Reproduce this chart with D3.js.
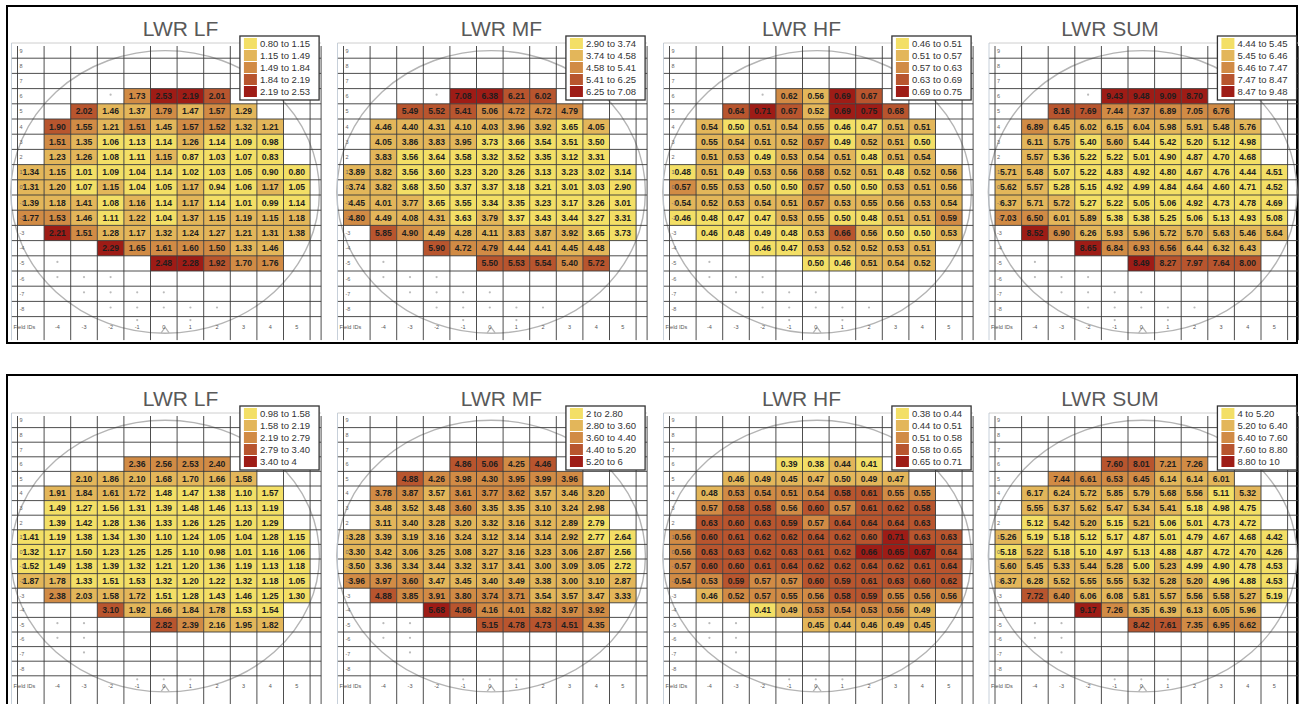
<!DOCTYPE html>
<html><head><meta charset="utf-8">
<script src="https://cdn.jsdelivr.net/npm/d3@7"></script>
<style>
body{margin:0;background:#fff;}
svg{display:block;font-family:"Liberation Sans",Arial,sans-serif;}
</style>
</head><body>
<svg id="chart" width="1299" height="704"></svg>
<script>
// ---------------- data ----------------
const columns = [-5,-4,-3,-2,-1,0,1,2,3,4,5];
const gridRows = [9,8,7,6,5,4,3,2,1,0,-1,-2,-3,-4,-5,-6,-7,-8];
const dataRows = [6,5,4,3,2,1,0,-1,-2,-3,-4,-5];
const columnLabels = ["Field IDs","-4","-3","-2","-1","0","1","2","3","4","5"];
const titles = ["LWR LF","LWR MF","LWR HF","LWR SUM"];
const _ = null;

const topLF = [
 [_,_,_,_,1.73,2.53,2.19,2.01,_,_,_],
 [_,_,2.02,1.46,1.37,1.79,1.47,1.57,1.29,_,_],
 [_,1.90,1.55,1.21,1.51,1.45,1.57,1.52,1.32,1.21,_],
 [_,1.51,1.35,1.06,1.13,1.14,1.26,1.14,1.09,0.98,_],
 [_,1.23,1.26,1.08,1.11,1.15,0.87,1.03,1.07,0.83,_],
 [1.34,1.15,1.01,1.09,1.04,1.14,1.02,1.03,1.05,0.90,0.80],
 [1.31,1.20,1.07,1.15,1.04,1.05,1.17,0.94,1.06,1.17,1.05],
 [1.39,1.18,1.41,1.08,1.16,1.14,1.17,1.14,1.01,0.99,1.14],
 [1.77,1.53,1.46,1.11,1.22,1.04,1.37,1.15,1.19,1.15,1.18],
 [_,2.21,1.51,1.28,1.17,1.32,1.24,1.27,1.21,1.31,1.38],
 [_,_,_,2.29,1.65,1.61,1.60,1.50,1.33,1.46,_],
 [_,_,_,_,_,2.48,2.28,1.92,1.70,1.76,_]
];
const topMF = [
 [_,_,_,_,7.08,6.38,6.21,6.02,_,_,_],
 [_,_,5.49,5.52,5.41,5.06,4.72,4.72,4.79,_,_],
 [_,4.46,4.40,4.31,4.10,4.03,3.96,3.92,3.65,4.05,_],
 [_,4.05,3.86,3.83,3.95,3.73,3.66,3.54,3.51,3.50,_],
 [_,3.83,3.56,3.64,3.58,3.32,3.52,3.35,3.12,3.31,_],
 [3.89,3.82,3.56,3.60,3.23,3.20,3.26,3.13,3.23,3.02,3.14],
 [3.74,3.82,3.68,3.50,3.37,3.37,3.18,3.21,3.01,3.03,2.90],
 [4.45,4.01,3.77,3.65,3.55,3.34,3.35,3.23,3.17,3.26,3.01],
 [4.80,4.49,4.08,4.31,3.63,3.79,3.37,3.43,3.44,3.27,3.31],
 [_,5.85,4.90,4.49,4.28,4.11,3.83,3.87,3.92,3.65,3.73],
 [_,_,_,5.90,4.72,4.79,4.44,4.41,4.45,4.48,_],
 [_,_,_,_,_,5.50,5.53,5.54,5.40,5.72,_]
];
const topHF = [
 [_,_,_,_,0.62,0.56,0.69,0.67,_,_,_],
 [_,_,0.64,0.71,0.67,0.52,0.69,0.75,0.68,_,_],
 [_,0.54,0.50,0.51,0.54,0.55,0.46,0.47,0.51,0.51,_],
 [_,0.55,0.54,0.51,0.52,0.57,0.49,0.52,0.51,0.50,_],
 [_,0.51,0.53,0.49,0.53,0.54,0.51,0.48,0.51,0.54,_],
 [0.48,0.51,0.49,0.53,0.56,0.58,0.52,0.51,0.48,0.52,0.56],
 [0.57,0.55,0.53,0.50,0.50,0.57,0.50,0.50,0.53,0.51,0.56],
 [0.54,0.52,0.53,0.54,0.51,0.57,0.53,0.55,0.56,0.53,0.54],
 [0.46,0.48,0.47,0.47,0.53,0.55,0.50,0.48,0.51,0.51,0.59],
 [_,0.46,0.48,0.49,0.48,0.53,0.66,0.56,0.50,0.50,0.53],
 [_,_,_,0.46,0.47,0.53,0.52,0.52,0.53,0.51,_],
 [_,_,_,_,_,0.50,0.46,0.51,0.54,0.52,_]
];
const topSUM = [
 [_,_,_,_,9.43,9.48,9.09,8.70,_,_,_],
 [_,_,8.16,7.69,7.44,7.37,6.89,7.05,6.76,_,_],
 [_,6.89,6.45,6.02,6.15,6.04,5.98,5.91,5.48,5.76,_],
 [_,6.11,5.75,5.40,5.60,5.44,5.42,5.20,5.12,4.98,_],
 [_,5.57,5.36,5.22,5.22,5.01,4.90,4.87,4.70,4.68,_],
 [5.71,5.48,5.07,5.22,4.83,4.92,4.80,4.67,4.76,4.44,4.51],
 [5.62,5.57,5.28,5.15,4.92,4.99,4.84,4.64,4.60,4.71,4.52],
 [6.37,5.71,5.72,5.27,5.22,5.05,5.06,4.92,4.73,4.78,4.69],
 [7.03,6.50,6.01,5.89,5.38,5.38,5.25,5.06,5.13,4.93,5.08],
 [_,8.52,6.90,6.26,5.93,5.96,5.72,5.70,5.63,5.46,5.64],
 [_,_,_,8.65,6.84,6.93,6.56,6.44,6.32,6.43,_],
 [_,_,_,_,_,8.49,8.27,7.97,7.64,8.00,_]
];
const bottomLF = [
 [_,_,_,_,2.36,2.56,2.53,2.40,_,_,_],
 [_,_,2.10,1.86,2.10,1.68,1.70,1.66,1.58,_,_],
 [_,1.91,1.84,1.61,1.72,1.48,1.47,1.38,1.10,1.57,_],
 [_,1.49,1.27,1.56,1.31,1.39,1.48,1.46,1.13,1.19,_],
 [_,1.39,1.42,1.28,1.36,1.33,1.26,1.25,1.20,1.29,_],
 [1.41,1.19,1.38,1.34,1.30,1.10,1.24,1.05,1.04,1.28,1.15],
 [1.32,1.17,1.50,1.23,1.25,1.25,1.10,0.98,1.01,1.16,1.06],
 [1.52,1.49,1.38,1.39,1.32,1.21,1.20,1.36,1.19,1.13,1.18],
 [1.87,1.78,1.33,1.51,1.53,1.32,1.20,1.22,1.32,1.18,1.05],
 [_,2.38,2.03,1.58,1.72,1.51,1.28,1.43,1.46,1.25,1.30],
 [_,_,_,3.10,1.92,1.66,1.84,1.78,1.53,1.54,_],
 [_,_,_,_,_,2.82,2.39,2.16,1.95,1.82,_]
];
const bottomMF = [
 [_,_,_,_,4.86,5.06,4.25,4.46,_,_,_],
 [_,_,4.88,4.26,3.98,4.30,3.95,3.99,3.96,_,_],
 [_,3.78,3.87,3.57,3.61,3.77,3.62,3.57,3.46,3.20,_],
 [_,3.48,3.52,3.48,3.60,3.35,3.35,3.10,3.24,2.98,_],
 [_,3.11,3.40,3.28,3.20,3.32,3.16,3.12,2.89,2.79,_],
 [3.28,3.39,3.19,3.16,3.24,3.12,3.14,3.14,2.92,2.77,2.64],
 [3.30,3.42,3.06,3.25,3.08,3.27,3.16,3.23,3.06,2.87,2.56],
 [3.50,3.36,3.34,3.44,3.32,3.17,3.41,3.00,3.09,3.05,2.72],
 [3.96,3.97,3.60,3.47,3.45,3.40,3.49,3.38,3.00,3.10,2.87],
 [_,4.88,3.85,3.91,3.80,3.74,3.71,3.54,3.57,3.47,3.33],
 [_,_,_,5.68,4.86,4.16,4.01,3.82,3.97,3.92,_],
 [_,_,_,_,_,5.15,4.78,4.73,4.51,4.35,_]
];
const bottomHF = [
 [_,_,_,_,0.39,0.38,0.44,0.41,_,_,_],
 [_,_,0.46,0.49,0.45,0.47,0.50,0.49,0.47,_,_],
 [_,0.48,0.53,0.54,0.51,0.54,0.58,0.61,0.55,0.55,_],
 [_,0.57,0.58,0.58,0.56,0.60,0.57,0.61,0.62,0.58,_],
 [_,0.63,0.60,0.63,0.59,0.57,0.64,0.64,0.64,0.63,_],
 [0.56,0.60,0.61,0.62,0.62,0.64,0.62,0.60,0.71,0.63,0.63],
 [0.56,0.63,0.63,0.62,0.63,0.61,0.62,0.66,0.65,0.67,0.64],
 [0.57,0.60,0.60,0.61,0.64,0.62,0.62,0.64,0.62,0.61,0.64],
 [0.54,0.53,0.59,0.57,0.57,0.60,0.59,0.61,0.63,0.60,0.62],
 [_,0.46,0.52,0.57,0.55,0.56,0.58,0.59,0.55,0.56,0.56],
 [_,_,_,0.41,0.49,0.53,0.54,0.53,0.56,0.49,_],
 [_,_,_,_,_,0.45,0.44,0.46,0.49,0.45,_]
];
const bottomSUM = [
 [_,_,_,_,7.60,8.01,7.21,7.26,_,_,_],
 [_,_,7.44,6.61,6.53,6.45,6.14,6.14,6.01,_,_],
 [_,6.17,6.24,5.72,5.85,5.79,5.68,5.56,5.11,5.32,_],
 [_,5.55,5.37,5.62,5.47,5.34,5.41,5.18,4.98,4.75,_],
 [_,5.12,5.42,5.20,5.15,5.21,5.06,5.01,4.73,4.72,_],
 [5.26,5.19,5.18,5.12,5.17,4.87,5.01,4.79,4.67,4.68,4.42],
 [5.18,5.22,5.18,5.10,4.97,5.13,4.88,4.87,4.72,4.70,4.26],
 [5.60,5.45,5.33,5.44,5.28,5.00,5.23,4.99,4.90,4.78,4.53],
 [6.37,6.28,5.52,5.55,5.55,5.32,5.28,5.20,4.96,4.88,4.53],
 [_,7.72,6.40,6.06,6.08,5.81,5.57,5.56,5.58,5.27,5.19],
 [_,_,_,9.17,7.26,6.35,6.39,6.13,6.05,5.96,_],
 [_,_,_,_,_,8.42,7.61,7.35,6.95,6.62,_]
];

// legend class breaks and labels
const topLFBreaks = [0.80,1.15,1.49,1.84,2.19,2.53];
const topMFBreaks = [2.90,3.74,4.58,5.41,6.25,7.08];
const topHFBreaks = [0.46,0.51,0.57,0.63,0.69,0.75];
const topSUMBreaks = [4.44,5.45,6.46,7.47,8.47,9.48];
const bottomLFBreaks = [0.98,1.58,2.19,2.79,3.40,4];
const bottomMFBreaks = [2,2.80,3.60,4.40,5.20,6];
const bottomHFBreaks = [0.38,0.44,0.51,0.58,0.65,0.71];
const bottomSUMBreaks = [4,5.20,6.40,7.60,8.80,10];

const topLFLabels = ["0.80 to 1.15","1.15 to 1.49","1.49 to 1.84","1.84 to 2.19","2.19 to 2.53"];
const topMFLabels = ["2.90 to 3.74","3.74 to 4.58","4.58 to 5.41","5.41 to 6.25","6.25 to 7.08"];
const topHFLabels = ["0.46 to 0.51","0.51 to 0.57","0.57 to 0.63","0.63 to 0.69","0.69 to 0.75"];
const topSUMLabels = ["4.44 to 5.45","5.45 to 6.46","6.46 to 7.47","7.47 to 8.47","8.47 to 9.48"];
const bottomLFLabels = ["0.98 to 1.58","1.58 to 2.19","2.19 to 2.79","2.79 to 3.40","3.40 to 4"];
const bottomMFLabels = ["2 to 2.80","2.80 to 3.60","3.60 to 4.40","4.40 to 5.20","5.20 to 6"];
const bottomHFLabels = ["0.38 to 0.44","0.44 to 0.51","0.51 to 0.58","0.58 to 0.65","0.65 to 0.71"];
const bottomSUMLabels = ["4 to 5.20","5.20 to 6.40","6.40 to 7.60","7.60 to 8.80","8.80 to 10"];

// empty-site markers [column, row]; row -9 = marker above the Field IDs row
const topMarkers = [[-2,6],[-4,-5],[-4,-6],[-3,-6],[-2,-6],[-3,-7],[-2,-7],[-1,-7],[0,-7],
  [-2,-8],[-1,-8],[0,-8],[1,-8],[2,-8],[-1,-9],[1,-9]];
const bottomMarkers = [[-4,-5],[-3,-5],[-4,-6],[-3,-6],[-3,-7],[-1,-9],[0,-9],[1,-9]];

const palette = ["#f3df66","#e3b65a","#d18b45","#b8552e","#9e1c16"];

// ---------------- layout ----------------
const W = 1299, H = 704;
const svg = d3.select("#chart");
const bands = [
  {frameTop:6, frameBottom:343, gridTop:43, rowH:15.2, fieldH:23.5, titleY:36,
   sets:[[topLF,topLFBreaks,topLFLabels],[topMF,topMFBreaks,topMFLabels],[topHF,topHFBreaks,topHFLabels],[topSUM,topSUMBreaks,topSUMLabels]],
   markers: topMarkers},
  {frameTop:375, frameBottom:716, gridTop:413, rowH:14.6, fieldH:30, titleY:406,
   sets:[[bottomLF,bottomLFBreaks,bottomLFLabels],[bottomMF,bottomMFBreaks,bottomMFLabels],[bottomHF,bottomHFBreaks,bottomHFLabels],[bottomSUM,bottomSUMBreaks,bottomSUMLabels]],
   markers: bottomMarkers}
];
const panelLeft = [17.5, 343.5, 669.5, 995];
const titleDx = [163, 158, 132, 115];
const colW = 26.6;
const strip = 11;

bands.forEach(band => {
  // outer frame
  svg.append("rect").attr("x",7).attr("y",band.frameTop)
    .attr("width",1290).attr("height",band.frameBottom-band.frameTop)
    .attr("fill","none").attr("stroke","#000").attr("stroke-width",2);

  band.sets.forEach((set, pi) => {
    const [values, breaks, labels] = set;
    const L = panelLeft[pi];
    const gridRight = L + columns.length*colW;
    const g = svg.append("g");
    const x = d3.scaleBand().domain(columns).range([L, gridRight]);
    const y = d3.scaleBand().domain(gridRows).range([band.gridTop, band.gridTop + gridRows.length*band.rowH]);
    const fieldTop = band.gridTop + gridRows.length*band.rowH;
    const fieldBottom = Math.min(fieldTop + band.fieldH, band.frameBottom - 2);
    const color = d3.scaleThreshold().domain(breaks.slice(1,5)).range(palette);

    // title
    g.append("text").attr("x", L + titleDx[pi]).attr("y", band.titleY)
      .attr("text-anchor","middle").attr("font-size",21).attr("fill","#595959")
      .text(titles[pi]);

    // cells
    const cells = [];
    dataRows.forEach((r, ri) => columns.forEach((c, ci) => {
      const v = values[ri][ci];
      if (v !== null) cells.push({r, c, v});
    }));
    g.selectAll("rect.cell").data(cells).join("rect").attr("class","cell")
      .attr("x", d => x(d.c)).attr("y", d => y(d.r))
      .attr("width", x.bandwidth()).attr("height", y.bandwidth())
      .attr("fill", d => color(d.v));

    // wafer outline
    const cx = L + 5.55*colW, cy = band.gridTop + 9.8*band.rowH;
    const rx = 5.8*colW, ry = 9.3*band.rowH;
    g.append("ellipse").attr("cx",cx).attr("cy",cy).attr("rx",rx).attr("ry",ry)
      .attr("fill","none").attr("stroke","#b4b4b4").attr("stroke-width",1.4);
    g.append("path").attr("d", `M${cx-4},${cy+ry-0.5} L${cx},${cy+ry-6} L${cx+4},${cy+ry-0.5}`)
      .attr("fill","none").attr("stroke","#b4b4b4").attr("stroke-width",1.2);

    // grid lines
    const hLines = d3.range(gridRows.length+1).map(i => band.gridTop + i*band.rowH);
    g.selectAll("line.h").data(hLines).join("line").attr("class","h")
      .attr("x1", L-6).attr("x2", gridRight+strip)
      .attr("y1", d => d).attr("y2", d => d)
      .attr("stroke", (d,i) => i===0 ? "#c8c8c8" : "#3a3a3a").attr("stroke-width",0.9);
    const vLines = columns.map(c => x(c)).concat([gridRight, gridRight+strip]);
    g.selectAll("line.v").data(vLines).join("line").attr("class","v")
      .attr("x1", d => d).attr("x2", d => d)
      .attr("y1", band.gridTop+3).attr("y2", fieldBottom)
      .attr("stroke","#3a3a3a").attr("stroke-width",0.9);
    g.append("line").attr("x1",L-6).attr("x2",L-6).attr("y1",band.gridTop).attr("y2",fieldBottom)
      .attr("stroke","#b9c4d0").attr("stroke-width",0.8);

    // cell values
    g.selectAll("text.val").data(cells).join("text").attr("class","val")
      .attr("x", d => x(d.c) + x.bandwidth()/2)
      .attr("y", d => y(d.r) + y.bandwidth()/2 + 3)
      .attr("text-anchor","middle").attr("font-size",8.6).attr("font-weight","bold")
      .attr("fill","#1e1e1e").text(d => d.v.toFixed(2));

    // row labels
    g.selectAll("text.rl").data(gridRows).join("text").attr("class","rl")
      .attr("x", L+2).attr("y", d => y(d) + y.bandwidth()/2 + 2)
      .attr("font-size",5.5).attr("fill","#666").text(d => d);

    // column labels (Field IDs row)
    g.selectAll("text.cl").data(columns).join("text").attr("class","cl")
      .attr("x", (d,i) => i===0 ? L-4 : x(d) + x.bandwidth()/2)
      .attr("y", fieldTop + 12)
      .attr("text-anchor", (d,i) => i===0 ? "start" : "middle")
      .attr("font-size",5.5).attr("fill","#555").text((d,i) => columnLabels[i]);

    // empty-site markers
    g.selectAll("circle.mk").data(band.markers).join("circle").attr("class","mk")
      .attr("cx", d => x(d[0]) + x.bandwidth()/2)
      .attr("cy", d => d[1] === -9 ? fieldTop + 3.5 : y(d[1]) + y.bandwidth()/2 - 1.5)
      .attr("r",1.1).attr("fill","#bbb");

    // legend
    const lg = g.append("g");
    const lTop = band.gridTop - 7;
    const texts = lg.selectAll("text").data(labels).join("text")
      .attr("font-size",9.5).attr("fill","#333").text(d => d);
    const maxW = d3.max(texts.nodes(), n => n.getComputedTextLength());
    const lW = 20 + maxW + 9, lH = 64;
    const lLeft = gridRight + 9 - lW;
    lg.insert("rect","text").attr("x",lLeft).attr("y",lTop).attr("width",lW).attr("height",lH)
      .attr("fill","#fff").attr("stroke","#333").attr("stroke-width",1.3);
    lg.selectAll("rect.sw").data(palette).join("rect").attr("class","sw")
      .attr("x", lLeft+4).attr("y", (d,i) => lTop + 2 + 12*i)
      .attr("width",13).attr("height",11).attr("fill", d => d);
    texts.attr("x", lLeft+20).attr("y", (d,i) => lTop + 11 + 12*i);
  });
});
</script>
</body></html>
